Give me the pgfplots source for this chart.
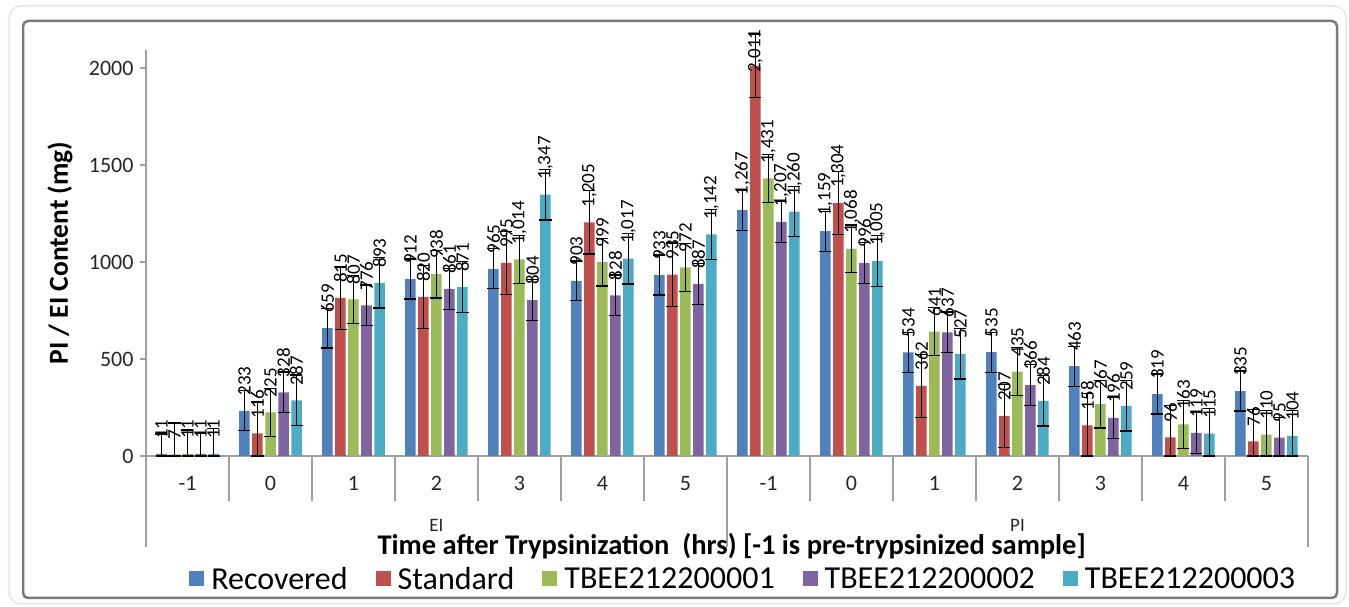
\documentclass[border=0pt]{standalone}
\usepackage{fontspec}
\setmainfont{Carlito}
\usepackage{pgfplots}
\pgfplotsset{compat=1.18}

\definecolor{cRec}{HTML}{4F81BD}
\definecolor{cStd}{HTML}{C0504D}
\definecolor{cTa}{HTML}{9BBB59}
\definecolor{cTb}{HTML}{8064A2}
\definecolor{cTc}{HTML}{4BACC6}
\definecolor{axgray}{HTML}{A0A0A0}
\definecolor{framegray}{HTML}{7A7A7A}
\definecolor{outerline}{HTML}{E3E8F0}

% value label: sits a little above the bar, or inside when it would hit the top
\newcommand{\barlabel}{%
  \pgfmathfloatparsenumber{\pgfplotspointmeta}%
  \pgfmathfloattofixed{\pgfmathresult}%
  \ifdim\pgfmathresult pt>2000pt\hspace*{-8pt}\else\hspace*{14pt}\fi
  \pgfmathprintnumber[fixed,precision=0,1000 sep={,}]{\pgfplotspointmeta}}

\begin{document}
\begin{tikzpicture}
\path[use as bounding box] (0pt,0pt) rectangle (1349pt,607pt);
\draw[outerline, line width=1.5pt, rounded corners=12pt] (9pt,3pt) rectangle (1346pt,601pt);
\draw[framegray, line width=2.5pt, rounded corners=5pt] (23pt,9pt) rectangle (1337pt,586pt);

\begin{axis}[
  at={(146pt,151pt)}, anchor=south west,
  scale only axis, width=1162pt, height=406pt,
  ybar=2.5pt, bar width=10.5pt,
  xmin=-0.5, xmax=13.5, ymin=0, ymax=2093,
  axis x line=bottom, axis y line=left,
  axis line style={-, draw=axgray, line width=1.3pt},
  xtick={0,...,13},
  xticklabels={-1,0,1,2,3,4,5,-1,0,1,2,3,4,5},
  xtick style={draw=none},
  ytick={0,500,1000,1500,2000},
  ytick style={draw=axgray, line width=1.3pt},
  tick align=outside, major tick length=6pt,
  /pgf/number format/assume math mode=true,
  /pgf/number format/1000 sep={},
  tick label style={font=\fontsize{22}{26}\selectfont, text=black!85},
  xticklabel style={anchor=base, yshift=-29pt},
  yticklabel style={anchor=east, xshift=-3pt},
  ylabel={\bfseries PI / EI Content (mg)},
  ylabel style={at={(axis description cs:-0.074,0.5)}, anchor=center, font=\fontsize{27.5}{30}\selectfont},
  xlabel={\bfseries Time after Trypsinization\ \ (hrs) [-1 is pre-trypsinized sample]},
  xlabel style={at={(axis description cs:0.504,-0.222)}, anchor=center, font=\fontsize{28.5}{32}\selectfont},
  legend style={at={(axis description cs:0.514,-0.303)}, anchor=center, draw=none, fill=none,
    legend columns=-1, font=\fontsize{32}{35}\selectfont,
    /tikz/every even column/.append style={column sep=26pt}},
  legend image code/.code={\fill[#1] (0pt,-7pt) rectangle (15pt,8pt); \path (20pt,0pt);},
  nodes near coords={\barlabel},
  nodes near coords align={horizontal},
  every node near coord/.append style={rotate=90, anchor=west, inner sep=1pt, black, font=\fontsize{19}{21}\selectfont},
  error bars/y dir=both, error bars/y explicit,
  error bars/error bar style={black, line width=1.3pt},
  error bars/error mark=-,
  error bars/error mark options={rotate=90, draw=black, line width=1.3pt, mark size=6pt},
  clip=false,
]
% Recovered
\addplot[fill=cRec, draw=none] coordinates {
  (0,11) += (0,103) -= (0,11)
  (1,233) +- (0,103)
  (2,659) +- (0,103)
  (3,912) +- (0,103)
  (4,965) +- (0,103)
  (5,903) +- (0,103)
  (6,933) +- (0,103)
  (7,1267) +- (0,103)
  (8,1159) +- (0,103)
  (9,534) +- (0,103)
  (10,535) +- (0,103)
  (11,463) +- (0,103)
  (12,319) +- (0,103)
  (13,335) +- (0,103)
};
% Standard
\addplot[fill=cStd, draw=none] coordinates {
  (0,7) += (0,163) -= (0,7)
  (1,116) += (0,163) -= (0,116)
  (2,815) +- (0,163)
  (3,820) +- (0,163)
  (4,995) +- (0,163)
  (5,1205) +- (0,163)
  (6,935) +- (0,163)
  (7,2011) +- (0,163)
  (8,1304) +- (0,163)
  (9,362) +- (0,163)
  (10,207) +- (0,163)
  (11,158) += (0,163) -= (0,158)
  (12,96) += (0,163) -= (0,96)
  (13,76) += (0,163) -= (0,76)
};
% TBEE212200001
\addplot[fill=cTa, draw=none] coordinates {
  (0,11) += (0,123) -= (0,11)
  (1,225) +- (0,123)
  (2,807) +- (0,123)
  (3,938) +- (0,123)
  (4,1014) +- (0,123)
  (5,999) +- (0,123)
  (6,972) +- (0,123)
  (7,1431) +- (0,123)
  (8,1068) +- (0,123)
  (9,641) +- (0,123)
  (10,435) +- (0,123)
  (11,267) +- (0,123)
  (12,163) +- (0,123)
  (13,110) += (0,123) -= (0,110)
};
% TBEE212200002
\addplot[fill=cTb, draw=none] coordinates {
  (0,11) += (0,105) -= (0,11)
  (1,328) +- (0,105)
  (2,776) +- (0,105)
  (3,861) +- (0,105)
  (4,804) +- (0,105)
  (5,828) +- (0,105)
  (6,887) +- (0,105)
  (7,1207) +- (0,105)
  (8,996) +- (0,105)
  (9,637) +- (0,105)
  (10,366) +- (0,105)
  (11,196) +- (0,105)
  (12,119) +- (0,105)
  (13,95) += (0,105) -= (0,95)
};
% TBEE212200003
\addplot[fill=cTc, draw=none] coordinates {
  (0,11) += (0,130) -= (0,11)
  (1,287) +- (0,130)
  (2,893) +- (0,130)
  (3,871) +- (0,130)
  (4,1347) +- (0,130)
  (5,1017) +- (0,130)
  (6,1142) +- (0,130)
  (7,1260) +- (0,130)
  (8,1005) +- (0,130)
  (9,527) +- (0,130)
  (10,284) +- (0,130)
  (11,259) +- (0,130)
  (12,115) += (0,130) -= (0,115)
  (13,104) += (0,130) -= (0,104)
};
\legend{Recovered,Standard,TBEE212200001,TBEE212200002,TBEE212200003}

\pgfplotsinvokeforeach{0.5,1.5,2.5,3.5,4.5,5.5,7.5,8.5,9.5,10.5,11.5,12.5}{
  \draw[axgray, line width=1.3pt] (axis cs:#1,0) -- ++(0pt,-45pt);
}
\pgfplotsinvokeforeach{-0.5,6.5,13.5}{
  \draw[axgray, line width=1.3pt] (axis cs:#1,0) -- ++(0pt,-91pt);
}
\node[font=\fontsize{19}{22}\selectfont, text=black!85] at (axis cs:3,0) [yshift=-69pt] {EI};
\node[font=\fontsize{19}{22}\selectfont, text=black!85] at (axis cs:10,0) [yshift=-69pt] {PI};
\end{axis}
\end{tikzpicture}
\end{document}
